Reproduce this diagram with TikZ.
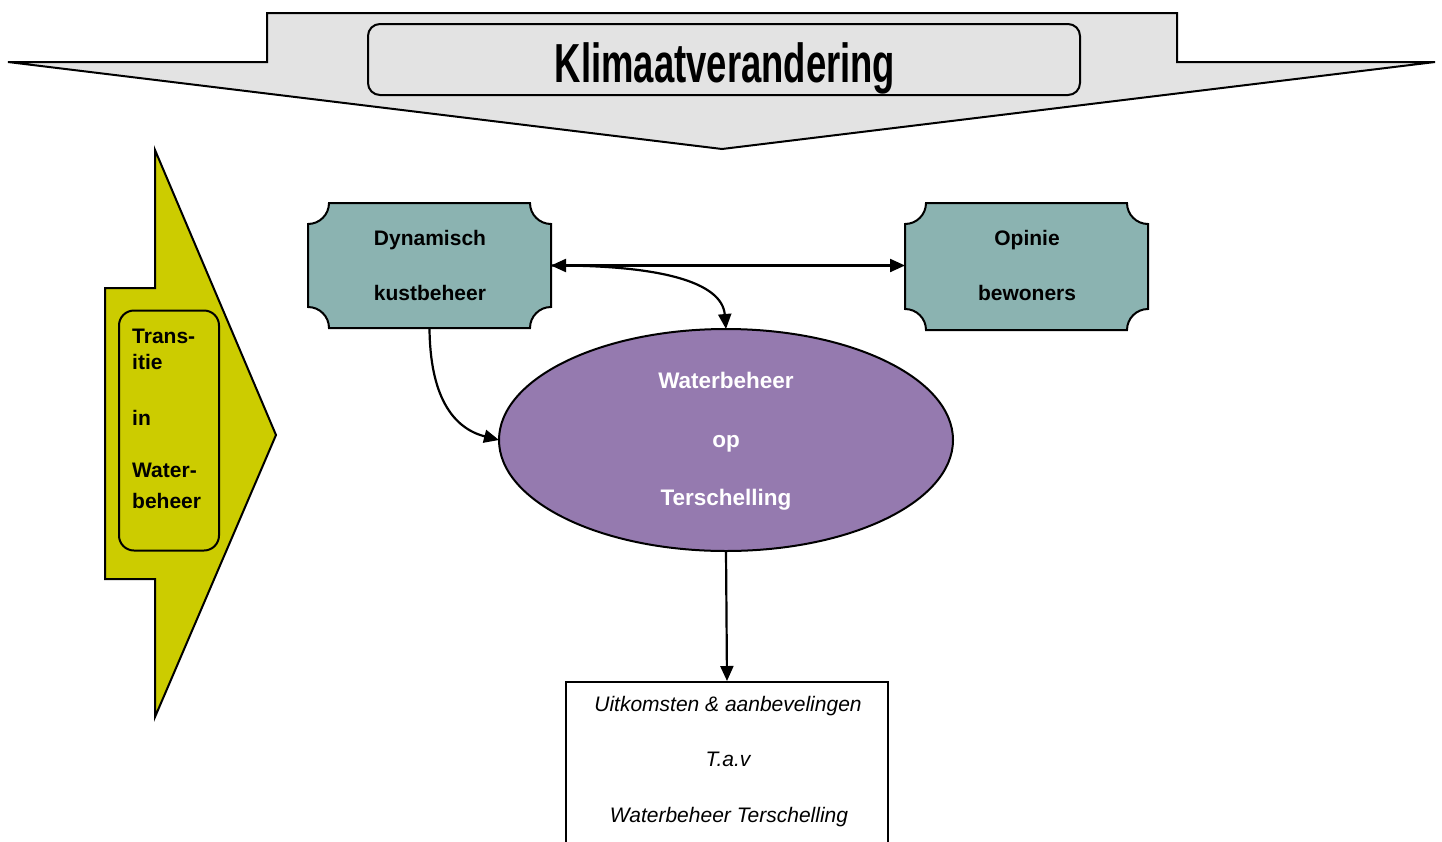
\documentclass[tikz,border=0pt]{standalone}
\usepackage{fontspec}
\usepackage{graphicx}
\setmainfont{Liberation Sans}
\usetikzlibrary{shapes.geometric,arrows.meta}
\definecolor{greyfill}{HTML}{E3E3E3}
\definecolor{olivefill}{HTML}{CCCC00}
\definecolor{tealfill}{HTML}{8BB3B1}
\definecolor{lilacfill}{HTML}{957AAF}
\tikzset{
  shapeline/.style={draw=black, line width=2pt, line join=miter},
  boxlbl/.style={anchor=base, inner sep=0pt, font=\fontsize{21}{25}\selectfont\bfseries},
  leftlbl/.style={anchor=base west, inner sep=0pt, font=\fontsize{21}{25}\selectfont\bfseries},
  elllbl/.style={anchor=base, inner sep=0pt, text=white, font=\fontsize{22.5}{27}\selectfont\bfseries},
  outlbl/.style={anchor=base, inner sep=0pt, font=\fontsize{21}{25}\selectfont\itshape},
  tip/.tip={Triangle[length=15pt,width=13pt]},
  conn/.style={line width=2.2pt, -tip},
  anchorbox/.style={inner sep=0pt, outer sep=0pt},
}
\newcommand\scrollshape[5]{%
  \path[shapeline, fill=tealfill]
    ({#1},{#2+#5}) .. controls ({#1+0.552*#5},{#2+#5}) and ({#1+#5},{#2+0.552*#5}) .. ({#1+#5},{#2})
    -- ({#3-#5},{#2}) .. controls ({#3-#5},{#2+0.552*#5}) and ({#3-0.552*#5},{#2+#5}) .. ({#3},{#2+#5})
    -- ({#3},{#4-#5}) .. controls ({#3-0.552*#5},{#4-#5}) and ({#3-#5},{#4-0.552*#5}) .. ({#3-#5},{#4})
    -- ({#1+#5},{#4}) .. controls ({#1+#5},{#4-0.552*#5}) and ({#1+0.552*#5},{#4-#5}) .. ({#1},{#4-#5})
    -- cycle;}
\begin{document}
\begin{tikzpicture}[x=1pt,y=-1pt]
\useasboundingbox (0,0) rectangle (1442,841);
% top arrow
\path[shapeline, fill=greyfill] (8,62) -- (267,62) -- (267,13) -- (1177,13) -- (1177,62) -- (1435,62) -- (722,149) -- cycle;
\node[draw, line width=2pt, rounded corners=12pt, minimum width=712pt, minimum height=71pt, anchorbox] (tbox) at (724,59.5) {};
\node[anchor=base, inner sep=0pt, font=\fontsize{55}{60}\selectfont\bfseries] (title) at (725,82) {\scalebox{0.663}[1]{Klimaatverandering}};
% left arrow
\path[shapeline, fill=olivefill] (155,150) -- (155,288) -- (105,288) -- (105,579) -- (155,579) -- (155,717) -- (276,435) -- cycle;
\node[draw, line width=2pt, rounded corners=15pt, minimum width=100pt, minimum height=240pt, anchorbox] (trans) at (169,430.5) {};
\node[leftlbl] (l1) at (132,343) {Trans-};
\node[leftlbl] (l2) at (132,369) {itie};
\node[leftlbl] (l3) at (132,425) {in};
\node[leftlbl] (l4) at (132,477) {Water-};
\node[leftlbl] (l5) at (132,508) {beheer};
% scroll boxes
\scrollshape{308}{203}{551}{328}{21}
\node[minimum width=243pt, minimum height=125pt, anchorbox] (dyn) at (429.5,265.5) {};
\node[boxlbl] (d1) at (430,245) {Dynamisch};
\node[boxlbl] (d2) at (430,300) {kustbeheer};
\scrollshape{905}{203}{1148}{330}{21}
\node[minimum width=243pt, minimum height=127pt, anchorbox] (opi) at (1026.5,266.5) {};
\node[boxlbl] (o1) at (1027,245) {Opinie};
\node[boxlbl] (o2) at (1027,300) {bewoners};
% ellipse
\node[ellipse, draw, line width=2pt, fill=lilacfill, minimum width=454pt, minimum height=222pt, anchorbox] (ell) at (726,440) {};
\node[elllbl] (e1) at (726,388) {Waterbeheer};
\node[elllbl] (e2) at (726,447) {op};
\node[elllbl] (e3) at (726,505) {Terschelling};
% outcome box
\node[draw, line width=2pt, fill=white, minimum width=322pt, minimum height=200pt, anchor=north, inner sep=0pt] (out) at (727,681) {};
\node[outlbl] (u1) at (728,711) {Uitkomsten \& aanbevelingen};
\node[outlbl] (u2) at (728,766) {T.a.v};
\node[outlbl] (u3) at (729,822) {Waterbeheer Terschelling};
% connectors
\draw[line width=2.2pt, tip-tip] (dyn.east) -- (dyn.east -| opi.west);
\draw[conn] (dyn.east) .. controls (660,265) and (722,282) .. (ell.north);
\draw[conn] (dyn.south) .. controls (430,395) and (452,428) .. (ell.west);
\draw[conn] (ell.south) -- (out.north);
\end{tikzpicture}
\end{document}
